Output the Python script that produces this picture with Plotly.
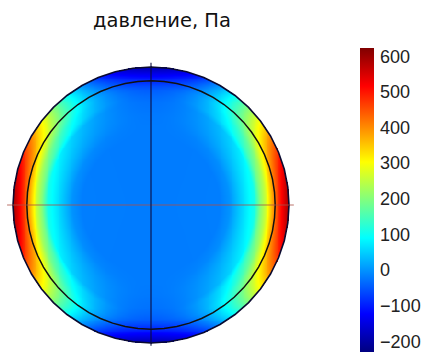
import numpy as np
import plotly.graph_objects as go

# Pressure (Pa) read along the horizontal and vertical diameters,
# at normalised radius stations (0 = centre, 1 = outer wall)
R_STATIONS = [0.0, 0.50, 0.57, 0.65, 0.75, 0.79, 0.83, 0.86, 0.89, 0.91, 0.95, 1.0]
P_HORIZONTAL = [-20, -18, 0, 50, 110, 200, 260, 330, 400, 450, 520, 600]
P_VERTICAL = [-20, -20, -20, -22, -28, -35, -45, -60, -85, -100, -140, -200]

CBAR_TICKS = [-200, -100, 0, 100, 200, 300, 400, 500, 600]
P_MIN, P_MAX = -230, 623
INNER_RADIUS = 0.9
TITLE = "давление, Па"

JET = [
    [0.0, "rgb(0,0,128)"],
    [0.125, "rgb(0,0,255)"],
    [0.375, "rgb(0,255,255)"],
    [0.625, "rgb(255,255,0)"],
    [0.875, "rgb(255,0,0)"],
    [1.0, "rgb(128,0,0)"],
]

# Build the pressure field over the disc from the two diameter profiles
n = 301
xs = np.linspace(-1.0, 1.0, n)
ys = np.linspace(-1.0, 1.0, n)
X, Y = np.meshgrid(xs, ys)
R = np.hypot(X, Y)
with np.errstate(invalid="ignore", divide="ignore"):
    cos2 = np.where(R > 0, (X / R) ** 2, 1.0)
ph = np.interp(R, R_STATIONS, P_HORIZONTAL)
pv = np.interp(R, R_STATIONS, P_VERTICAL)
Z = pv + (ph - pv) * cos2
Z = np.where(R <= 1.0, Z, np.nan)

# Plot area: 302 x 290 px, 138 px per unit radius on both axes
fig = go.Figure()
fig.add_trace(go.Heatmap(
    x=xs, y=ys, z=Z,
    zmin=P_MIN, zmax=P_MAX,
    colorscale=JET,
    zsmooth=False,
    hoverinfo="skip",
    colorbar=dict(
        x=360 / 302, xanchor="left", xpad=0,
        y=(350 - 48) / 290, yanchor="top", ypad=0,
        thickness=14, lenmode="pixels", len=304,
        outlinewidth=0,
        tickvals=CBAR_TICKS, ticks="outside", ticklen=3,
        tickcolor="rgba(0,0,0,0)",
        tickfont=dict(family="Liberation Sans, Arial, sans-serif", size=18, color="#222"),
    ),
))

# Outer wall (faceted) and inner circle
t_out = np.linspace(0, 2 * np.pi, 49)
fig.add_trace(go.Scatter(
    x=np.cos(t_out), y=np.sin(t_out), mode="lines",
    line=dict(color="#0a0a30", width=1.6), hoverinfo="skip", showlegend=False,
))
t_in = np.linspace(0, 2 * np.pi, 61)
fig.add_trace(go.Scatter(
    x=INNER_RADIUS * np.cos(t_in), y=INNER_RADIUS * np.sin(t_in), mode="lines",
    line=dict(color="#111111", width=1.5), hoverinfo="skip", showlegend=False,
))

# Cross-hair through the centre
fig.add_trace(go.Scatter(
    x=[-1.043, 1.035], y=[0, 0], mode="lines",
    line=dict(color="rgba(170,80,70,0.8)", width=1.2), hoverinfo="skip", showlegend=False,
))
fig.add_trace(go.Scatter(
    x=[0, 0], y=[-1.02, 1.03], mode="lines",
    line=dict(color="rgba(10,10,60,0.9)", width=1.2), hoverinfo="skip", showlegend=False,
))

fig.update_layout(
    width=427, height=363,
    margin=dict(l=0, r=125, t=60, b=13),
    paper_bgcolor="white", plot_bgcolor="white",
    showlegend=False,
    title=dict(
        text=TITLE, xref="paper", x=162 / 302, xanchor="center",
        yref="container", y=1 - 20 / 363, yanchor="middle",
        font=dict(family="DejaVu Sans, sans-serif", size=19.5, color="#111"),
    ),
    xaxis=dict(range=[-1.0942, 1.0942], visible=False, fixedrange=True),
    yaxis=dict(range=[-1.0507, 1.0507], visible=False, fixedrange=True),
)

fig.write_html("out.html")
